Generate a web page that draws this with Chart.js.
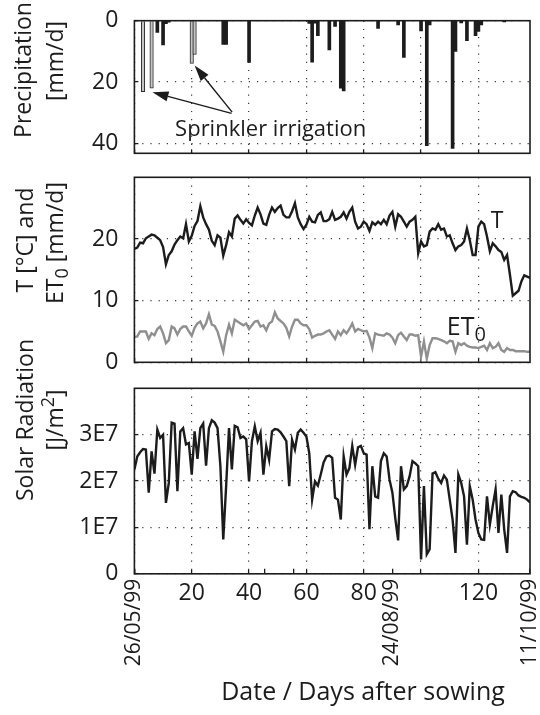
<!DOCTYPE html>
<html>
<head>
<meta charset="utf-8">
<script src="https://cdn.jsdelivr.net/npm/chart.js@4.4.1/dist/chart.umd.min.js"></script>
<style>
  html, body { margin: 0; padding: 0; background: #fff; }
  #wrap { position: relative; width: 540px; height: 715px; }
  #wrap canvas { position: absolute; left: 0; top: 0; }
</style>
</head>
<body>
<div id="wrap">
  <canvas id="rain" width="540" height="715"></canvas>
  <canvas id="temp" width="540" height="715"></canvas>
  <canvas id="solar" width="540" height="715"></canvas>
</div>
<script>
// days after sowing (0 = 26/05/99, 138 = 11/10/99)
const rainDays = [8, 10, 11, 12, 31, 32, 40, 61, 62, 63, 64, 68, 70, 72, 73, 85, 92, 94, 100, 102, 103, 111, 112, 114, 116, 119, 120, 121, 129];
const rainMm = [3.8, 7.9, 1.0, 0.5, 7.7, 7.7, 13.6, 0.9, 13.5, 0.8, 4.9, 9.5, 1.9, 22.0, 22.9, 2.5, 1.4, 12.0, 3.3, 40.7, 1.4, 41.6, 10.0, 0.7, 6.5, 4.9, 3.5, 1.4, 0.4];
const sprinklerDays = [3, 6, 20, 21];
const sprinklerMm = [23.1, 22.0, 13.9, 11.0];

// one value per day, day 0..138
const tempC = [
  18.4, 18.6, 19.4, 19.3, 20.1, 20.4, 20.7, 20.6, 20.2, 19.8,
  18.7, 15.9, 17.4, 18.0, 19.1, 19.8, 20.4, 20.1, 22.4, 19.6,
  20.5, 22.1, 22.9, 25.3, 23.5, 22.4, 21.5, 19.7, 19.0, 20.6,
  20.2, 17.3, 19.0, 21.1, 20.4, 23.3, 23.8, 23.1, 22.5, 23.2,
  22.6, 22.2, 23.8, 25.1, 24.0, 22.5, 22.3, 23.9, 25.1, 24.4,
  25.0, 25.4, 23.9, 23.5, 23.5, 24.5, 25.8, 23.5, 22.4, 21.6,
  22.3, 23.6, 22.8, 22.7, 23.9, 24.3, 22.9, 22.9, 23.2, 24.4,
  23.1, 23.3, 23.6, 24.3, 23.3, 24.4, 25.1, 22.8, 21.7, 22.0,
  22.8, 22.4, 21.3, 22.7, 22.3, 22.8, 22.4, 23.1, 22.4, 23.8,
  24.4, 22.0, 24.0, 23.6, 22.8, 22.0, 22.8, 23.1, 23.6, 17.7,
  19.6, 18.8, 19.0, 21.2, 21.7, 21.5, 22.4, 21.5, 21.7, 20.4,
  20.6, 19.3, 18.2, 18.8, 19.0, 19.6, 21.7, 19.8, 17.4, 17.4,
  22.0, 22.8, 22.4, 20.4, 18.0, 19.3, 18.8, 18.2, 17.9, 16.6,
  17.4, 14.2, 10.8, 11.2, 11.6, 13.1, 14.1, 13.9, 13.7
];
const et0 = [
  4.1, 4.2, 5.0, 5.0, 5.0, 3.8, 4.7, 4.4, 5.4, 5.8,
  4.7, 3.1, 3.6, 5.8, 5.5, 4.5, 5.4, 5.8, 5.8, 5.0,
  4.3, 5.6, 6.3, 6.6, 5.5, 6.3, 7.8, 6.1, 5.9, 5.0,
  3.4, 1.7, 4.4, 6.1, 4.7, 6.9, 6.6, 6.3, 6.0, 6.3,
  5.4, 6.0, 6.6, 6.7, 5.8, 6.0, 5.2, 6.3, 6.6, 8.1,
  7.1, 6.7, 6.3, 5.6, 4.2, 5.8, 6.9, 6.9, 6.3, 6.0,
  6.0, 5.4, 4.0, 4.3, 4.5, 4.5, 4.7, 5.0, 5.2, 4.5,
  3.8, 5.0, 4.4, 5.2, 4.7, 5.4, 6.3, 5.0, 5.4, 5.2,
  5.0, 5.1, 4.0, 2.3, 4.7, 4.5, 4.4, 4.3, 4.7, 4.5,
  4.0, 3.1, 4.4, 4.8, 4.2, 3.6, 4.5, 4.5, 4.3, 4.4,
  0.9, 3.4, 0.6, 2.8, 3.9, 3.9, 3.8, 3.6, 3.4, 3.1,
  3.5, 3.4, 1.7, 3.1, 2.8, 3.1, 2.7, 2.5, 2.4, 2.4,
  2.3, 2.5, 2.7, 2.0, 3.1, 2.3, 2.5, 3.1, 2.0, 1.7,
  2.3, 2.0, 2.0, 1.8, 1.8, 1.8, 1.8, 1.7, 1.7
];
// solar radiation in units of 1E7 J/m2
const solarE7 = [
  2.25, 2.53, 2.62, 2.69, 2.68, 1.75, 2.64, 2.16, 3.11, 2.93,
  3.00, 1.53, 1.96, 3.26, 3.24, 1.78, 3.07, 3.14, 2.79, 2.82,
  2.14, 3.07, 2.48, 3.14, 3.24, 2.33, 3.14, 3.31, 3.26, 3.14,
  2.32, 0.74, 1.89, 3.14, 2.25, 3.19, 3.16, 2.93, 2.96, 2.90,
  1.99, 2.86, 3.18, 2.86, 3.04, 2.14, 2.75, 2.46, 3.07, 3.12,
  3.11, 3.05, 2.96, 2.86, 1.89, 2.89, 2.68, 3.04, 3.11, 3.04,
  2.96, 2.60, 1.60, 1.99, 1.90, 2.14, 2.40, 2.53, 2.55, 2.50,
  1.64, 1.60, 1.17, 2.53, 2.14, 2.28, 2.76, 2.35, 2.73, 2.76,
  2.60, 2.57, 0.96, 2.32, 1.67, 1.64, 2.43, 2.60, 2.53, 2.03,
  1.75, 1.20, 0.72, 2.32, 1.82, 1.89, 2.10, 2.43, 2.38, 2.32,
  0.31, 1.89, 0.42, 0.53, 2.16, 2.19, 2.05, 1.96, 2.12, 2.03,
  1.60, 1.17, 0.45, 2.14, 1.96, 1.67, 0.63, 1.89, 1.60, 1.17,
  0.88, 0.74, 0.73, 1.67, 1.06, 1.46, 1.82, 0.88, 1.71, 0.96,
  0.45, 1.67, 1.78, 1.76, 1.69, 1.66, 1.64, 1.60, 1.54
];

const dayTicks = [0, 20, 40, 60, 80, 100, 120];
const dayTickLabels = ["", "20", "40", "60", "80", "", "120"];
const dateTicks = [0, 45.5, 55.5, 90, 138];
const dateTickLabels = ["26/05/99", "", "", "24/08/99", "11/10/99"];
const rainTicks = [0, 20, 40];
const tempTicks = [0, 10, 20];
const solarTicks = [0, 1e7, 2e7, 3e7];

const INK = "#1c1c1c";
const FONT = "'Open Sans', sans-serif";
const PLOT_LEFT = 134.4;
const AXIS_ROOM = 715 - 573.8;

Chart.defaults.font.family = FONT;
Chart.defaults.font.size = 23;
Chart.defaults.color = INK;

function fixTicks(values) {
  return function (scale) {
    scale.ticks = values.map(function (v) { return { value: v }; });
  };
}

function fitX(height) {
  return function (s) {
    s.height = height;
    s.paddingLeft = 0;
    s.paddingRight = 0;
  };
}

function dottedGrid(tickLen) {
  return {
    color: "#3a3a3a",
    lineWidth: 1.2,
    offset: false,
    drawTicks: true,
    tickLength: tickLen,
    tickColor: INK,
    tickWidth: 1.3,
    tickBorderDash: [],
  };
}

function dayScale(withLabels) {
  return {
    type: "linear",
    position: "bottom",
    min: 0,
    max: 138,
    offset: false,
    afterBuildTicks: fixTicks(dayTicks),
    afterFit: fitX(withLabels ? AXIS_ROOM : 0),
    grid: dottedGrid(-4),
    border: { display: false, dash: [1.2, 7] },
    ticks: {
      display: withLabels,
      autoSkip: false,
      maxRotation: 0,
      minRotation: 0,
      padding: 10,
      callback: function (v, i) { return dayTickLabels[i]; },
    },
  };
}

function valueScale(min, max, values, fmt, reverse) {
  return {
    type: "linear",
    min: min,
    max: max,
    reverse: reverse,
    afterBuildTicks: fixTicks(values),
    afterFit: function (s) {
      s.width = PLOT_LEFT;
      s.paddingTop = 0;
      s.paddingBottom = 0;
    },
    grid: dottedGrid(-4),
    border: { display: false, dash: [1.2, 7] },
    ticks: { padding: 20, autoSkip: false, callback: fmt },
  };
}

// text with sub/superscripts, drawn left to right from x
function drawRich(ctx, parts, x, y, size, align) {
  function fontOf(p) {
    return (p[1] ? Math.round(size * 0.78) : size) + "px " + FONT;
  }
  var total = 0;
  parts.forEach(function (p) {
    ctx.font = fontOf(p);
    total += ctx.measureText(p[0]).width;
  });
  var cx = x;
  if (align === "center") cx = x - total / 2;
  if (align === "right") cx = x - total;
  ctx.textAlign = "left";
  ctx.textBaseline = "alphabetic";
  parts.forEach(function (p) {
    ctx.font = fontOf(p);
    var dy = 0;
    if (p[1] === "sub") dy = size * 0.22;
    if (p[1] === "sup") dy = -size * 0.4;
    ctx.fillText(p[0], cx, y + dy);
    cx += ctx.measureText(p[0]).width;
  });
}

function drawArrow(ctx, x0, y0, x1, y1) {
  var ang = Math.atan2(y1 - y0, x1 - x0);
  var len = 16, half = 5;
  var bx = x1 - len * Math.cos(ang);
  var by = y1 - len * Math.sin(ang);
  ctx.lineWidth = 1.4;
  ctx.beginPath();
  ctx.moveTo(x0, y0);
  ctx.lineTo(bx, by);
  ctx.stroke();
  ctx.beginPath();
  ctx.moveTo(x1, y1);
  ctx.lineTo(bx + half * Math.sin(ang), by - half * Math.cos(ang));
  ctx.lineTo(bx - half * Math.sin(ang), by + half * Math.cos(ang));
  ctx.closePath();
  ctx.fill();
}

// frame, axis titles and notes for one panel
function decor(cfg) {
  return {
    id: "decor",
    afterLayout: function (chart) {
      // the date axis shares the strip under the plot with the day axis
      var d = chart.scales.xDate, x = chart.scales.x;
      if (d) {
        d.top = x.top;
        d.bottom = x.bottom;
        d.height = x.bottom - x.top;
      }
    },
    afterDraw: function (chart) {
      var ctx = chart.ctx;
      var a = chart.chartArea;
      var sx = chart.scales.x, sy = chart.scales.y;
      ctx.save();
      ctx.fillStyle = INK;
      ctx.strokeStyle = INK;
      ctx.lineWidth = 1.6;
      ctx.strokeRect(a.left, a.top, a.right - a.left, a.bottom - a.top);

      (cfg.titles || []).forEach(function (t) {
        ctx.save();
        ctx.translate(t.x, t.y);
        if (t.rotate) ctx.rotate(-Math.PI / 2);
        drawRich(ctx, t.parts, 0, 0, t.size, "center");
        ctx.restore();
      });
      (cfg.notes || []).forEach(function (n) {
        drawRich(ctx, n.parts, sx.getPixelForValue(n.day), sy.getPixelForValue(n.value), n.size, n.align);
      });
      (cfg.arrows || []).forEach(function (r) {
        drawArrow(ctx,
          sx.getPixelForValue(r.from[0]), sy.getPixelForValue(r.from[1]),
          sx.getPixelForValue(r.to[0]), sy.getPixelForValue(r.to[1]));
      });
      ctx.restore();
    },
  };
}

function toPoints(days, values, scale) {
  return values.map(function (v, i) {
    return { x: days ? days[i] : i, y: v * (scale || 1) };
  });
}

// precipitation, bars hanging from the top
new Chart(document.getElementById("rain"), {
  type: "bar",
  data: {
    datasets: [
      {
        label: "Precipitation",
        data: toPoints(rainDays, rainMm),
        backgroundColor: INK,
        borderWidth: 0,
        barThickness: 3,
        grouped: false,
      },
      {
        label: "Sprinkler irrigation",
        data: toPoints(sprinklerDays, sprinklerMm),
        backgroundColor: "#c4c4c4",
        borderColor: "#2a2a2a",
        borderWidth: 1,
        barThickness: 3.5,
        grouped: false,
      },
    ],
  },
  options: {
    responsive: false,
    animation: false,
    events: [],
    layout: { padding: { top: 20.7, right: 10, bottom: 715 - 153.3, left: 0 } },
    plugins: { legend: { display: false }, tooltip: { enabled: false } },
    scales: {
      x: dayScale(false),
      y: valueScale(0, 43.2, rainTicks, function (v) { return String(v); }, true),
    },
  },
  plugins: [decor({
    titles: [
      { parts: [["Precipitation"]], x: 31, y: 70, size: 23, rotate: true },
      { parts: [["[mm/d]"]], x: 63, y: 61, size: 23, rotate: true },
    ],
    notes: [
      { parts: [["Sprinkler irrigation"]], day: 14.2, value: 37.7, size: 22, align: "left" },
    ],
    arrows: [
      { from: [33.9, 30.2], to: [6.3, 23.3] },
      { from: [34.1, 29.8], to: [21.0, 14.6] },
    ],
  })],
});

// temperature and reference evapotranspiration
new Chart(document.getElementById("temp"), {
  type: "line",
  data: {
    datasets: [
      {
        label: "T",
        data: toPoints(null, tempC),
        borderColor: INK,
        borderWidth: 2.4,
        pointRadius: 0,
        tension: 0,
      },
      {
        label: "ET0",
        data: toPoints(null, et0),
        borderColor: "#8f8f8f",
        borderWidth: 2.4,
        pointRadius: 0,
        tension: 0,
      },
    ],
  },
  options: {
    responsive: false,
    animation: false,
    events: [],
    layout: { padding: { top: 177.3, right: 10, bottom: 715 - 362.3, left: 0 } },
    plugins: { legend: { display: false }, tooltip: { enabled: false } },
    scales: {
      x: dayScale(false),
      y: valueScale(0, 30, tempTicks, function (v) { return String(v); }, false),
    },
  },
  plugins: [decor({
    titles: [
      { parts: [["T [°C] and"]], x: 33, y: 240, size: 23, rotate: true },
      { parts: [["ET"], ["0", "sub"], [" [mm/d]"]], x: 63, y: 243, size: 23, rotate: true },
    ],
    notes: [
      { parts: [["T"]], day: 126.5, value: 21.7, size: 23, align: "center" },
      { parts: [["ET"], ["0", "sub"]], day: 109, value: 4.4, size: 25, align: "left" },
    ],
  })],
});

// solar radiation with the date and day axes
new Chart(document.getElementById("solar"), {
  type: "line",
  data: {
    datasets: [
      {
        label: "Solar Radiation",
        data: toPoints(null, solarE7, 1e7),
        borderColor: INK,
        borderWidth: 2.4,
        pointRadius: 0,
        tension: 0,
      },
    ],
  },
  options: {
    responsive: false,
    animation: false,
    events: [],
    layout: { padding: { top: 388.3, right: 10, bottom: 0, left: 0 } },
    plugins: { legend: { display: false }, tooltip: { enabled: false } },
    scales: {
      x: dayScale(true),
      xDate: {
        type: "linear",
        position: "bottom",
        min: 0,
        max: 138,
        offset: false,
        afterBuildTicks: fixTicks(dateTicks),
        afterFit: fitX(0),
        grid: {
          drawOnChartArea: false,
          drawTicks: true,
          tickLength: -5,
          color: INK,
          tickColor: INK,
          tickWidth: 1.3,
          lineWidth: 1.3,
        },
        border: { display: false },
        ticks: {
          autoSkip: false,
          minRotation: 90,
          maxRotation: 90,
          padding: 10,
          font: { size: 21 },
          callback: function (v, i) { return dateTickLabels[i]; },
        },
      },
      y: valueScale(0, 4e7, solarTicks, function (v) {
        return v === 0 ? "0" : (v / 1e7) + "E7";
      }, false),
    },
  },
  plugins: [decor({
    titles: [
      { parts: [["Solar Radiation"]], x: 33, y: 420, size: 23, rotate: true },
      { parts: [["[J/m"], ["2", "sup"], ["]"]], x: 63, y: 420, size: 23, rotate: true },
      { parts: [["Date / Days after sowing"]], x: 363, y: 700, size: 25, rotate: false },
    ],
  })],
});
</script>
</body>
</html>
